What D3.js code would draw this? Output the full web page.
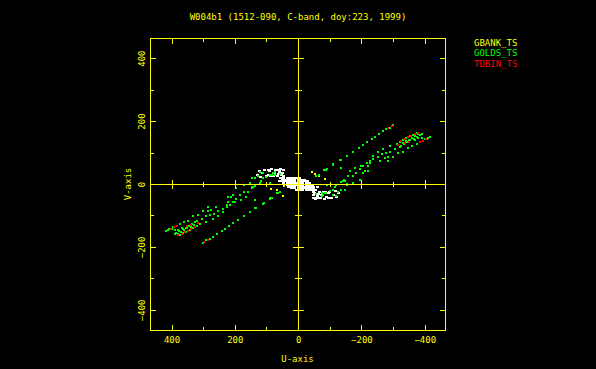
<!DOCTYPE html>
<html>
<head>
<meta charset="utf-8">
<script src="https://cdn.jsdelivr.net/npm/d3@7/dist/d3.min.js"></script>
<style>
html,body{margin:0;padding:0;background:#000;}
svg{display:block;}
text{font-family:"DejaVu Sans Mono",monospace;font-size:9px;}
</style>
</head>
<body>
<script>
const titleText = "W004b1 (1512-090, C-band, doy:223, 1999)";
const xLabel = "U-axis";
const yLabel = "V-axis";
const legendLabels = ["GBANK_TS", "GOLDS_TS", "TDBIN_TS"];
const legendColors = ["#ffff00", "#00ff00", "#ff0000"];
const majorTicks = [400, 200, 0, -200, -400];
const minorTicks = [400, 300, 200, 100, 0, -100, -200, -300, -400];

// GOLDS_TS (green) points, [u, v]
const goldsPoints = [
  [-300,186],[-290,179],[-279,174],[-268,167],[-255,159],[-242,150],[-232,143],[-219,134],[-205,125],[-191,115],[-172,102],[-153,90],[-135,77],[-110,63],[-88,45],[-65,30],
  [-374,162],[-363,156],[-353,151],[-342,146],[-332,140],[-321,133],[-311,128],[-305,111],[-290,103],[-279,98],[-266,95],[-253,87],[-237,80],[-226,72],[-216,67],[-205,58],
  [-418,149],[-407,143],[-395,138],[-384,132],[-374,128],[-361,122],[-347,116],[-332,103],[-316,98],[-300,87],[-284,72],
  [-380,158],[-370,152],[-360,147],[-350,141],[-340,136],[-330,131],[-385,155],[-375,150],[-365,144],[-355,139],[-345,133],[-335,127],[-325,122],[-390,147],[-400,142],[-410,146],[-390,160],[-378,146],[-368,140],
  [-290,121],[-321,119],[-268,111],[-253,101],[-237,90],[-284,87],[-274,82],[-258,72],[-226,67],[-221,56],[-200,58],[-195,47],[-179,51],[-165,40],[-147,11],[-135,5],[-121,-2],[-111,-18],[-90,-2],[-66,29],[-56,24],[-84,45],[-221,40],[-205,35],[-195,14],[-172,3],[-153,-2],[-137,-18],[-211,40],[-184,35],[-172,26],[-158,26],[-142,8],[-116,-8],[-126,-27],[-100,-23],[-84,-28],[-147,-18],[-109,61],[-132,77],[-81,45],
  [121,37],[89,29],[79,35],[74,29],[-58,-32],[-74,-39],[-111,-36],[-90,47],[-137,51],[-145,14],[-153,0],
  [300,-186],[290,-179],[279,-174],[268,-167],[255,-159],[242,-150],[232,-143],[219,-134],[205,-125],[191,-115],[172,-102],[153,-90],[135,-77],[110,-63],[88,-45],[65,-30],
  [374,-162],[363,-156],[353,-151],[342,-146],[332,-140],[321,-133],[311,-128],[305,-111],[290,-103],[279,-98],[266,-95],[253,-87],[237,-80],[226,-72],[216,-67],[205,-58],
  [418,-149],[407,-143],[395,-138],[384,-132],[374,-128],[361,-122],[347,-116],[332,-103],[316,-98],[300,-87],[284,-72],
  [380,-158],[370,-152],[360,-147],[350,-141],[340,-136],[330,-131],[385,-155],[375,-150],[365,-144],[355,-139],[345,-133],[335,-127],[325,-122],[390,-147],[400,-142],[410,-146],[390,-160],[378,-146],[368,-140],
  [290,-121],[321,-119],[268,-111],[253,-101],[237,-90],[284,-87],[274,-82],[258,-72],[226,-67],[221,-56],[200,-58],[195,-47],[179,-51],[165,-40],[147,-11],[135,-5],[121,2],[111,18],[90,2],[66,-29],[56,-24],[84,-45],[221,-40],[205,-35],[195,-14],[172,-3],[153,2],[137,18],[211,-40],[184,-35],[172,-26],[158,-26],[142,-8],[116,8],[126,27],[100,23],[84,28],[147,18],[109,-61],[132,-77],[81,-45],
  [-121,-37],[-89,-29],[-79,-35],[-74,-29],[58,32],[74,39],[111,36],[90,-47],[137,-51],[145,-14],[153,0]
];

// TDBIN_TS (red) points
const tdbinPoints = [
  [-297,184],[-285,177],[-326,137],[-337,143],[-348,149],[-358,154],[-368,159],[-379,163],[-384,132],[-393,137],[-403,143],[-316,124],[-337,130],[-350,135],
  [297,-184],[285,-177],[326,-137],[337,-143],[348,-149],[358,-154],[368,-159],[379,-163],[384,-132],[393,-137],[403,-143],[316,-124],[337,-130],[350,-135]
];

// GBANK_TS (white) points
const gbankPoints = [
  [121,40],[112,35],[105,43],[105,45],[95,45],[89,40],[84,48],[95,29],[87,26],[79,24],[100,24],[70,45],[68,45],[58,45],[56,48],[47,43],[60,37],[74,35],[63,33],[49,35],[66,26],[52,29],[47,24],[128,30],[118,22],
  [-121,-40],[-112,-35],[-105,-43],[-105,-45],[-95,-45],[-89,-40],[-84,-48],[-95,-29],[-87,-26],[-79,-24],[-100,-24],[-70,-45],[-68,-45],[-58,-45],[-56,-48],[-47,-43],[-60,-37],[-74,-35],[-63,-33],[-49,-35],[-66,-26],[-52,-29],[-47,-24],[-128,-30],[-118,-22],
  [55,20],[45,20],[35,20],[25,20],[15,20],[5,20],[-5,20],
  [50,14],[40,14],[30,14],[20,14],[10,14],[0,14],[-10,14],[-20,14],
  [60,8],[50,8],[40,8],[30,8],[20,8],[10,8],[0,8],[-10,8],[-20,8],[-30,8],
  [45,2],[35,2],[25,2],[15,2],[5,2],[-5,2],[-15,2],[-25,2],[-35,2],
  [35,-2],[25,-2],[15,-2],[5,-2],[-5,-2],[-15,-2],[-25,-2],[-35,-2],[-45,-2],
  [30,-8],[20,-8],[10,-8],[0,-8],[-10,-8],[-20,-8],[-30,-8],[-40,-8],[-50,-8],[-60,-8],
  [20,-14],[10,-14],[0,-14],[-10,-14],[-20,-14],[-30,-14],[-40,-14],[-50,-14],
  [5,-20],[-5,-20],[-15,-20],[-25,-20],[-35,-20],[-45,-20],[-55,-20]
];

// flagged GBANK_TS (yellow) points
const yellowPoints = [[-45,39],[-52,32],[-66,24],[-84,16],[87,-16],[68,-20],[49,-39],[45,-5]];

const W = 596, H = 369;
const svg = d3.select("body").append("svg").attr("width", W).attr("height", H)
  .style("background", "#000");

const x = d3.scaleLinear().domain([468, -464]).range([150, 445]);
const y = d3.scaleLinear().domain([464, -464]).range([38, 330]);
const YEL = "#ffff00";

const g = svg.append("g");

function drawPts(data, color, w, h) {
  g.append("g").selectAll("rect").data(data).join("rect")
    .attr("x", d => Math.round(x(d[0]) - w / 2))
    .attr("y", d => Math.round(y(d[1]) - h / 2))
    .attr("width", w).attr("height", h)
    .attr("fill", color).attr("shape-rendering", "crispEdges");
}
drawPts(gbankPoints, "#ffffff", 3, 2);
drawPts(yellowPoints, YEL, 2, 2);
drawPts(goldsPoints, "#00ff00", 2, 2);
drawPts(tdbinPoints, "#ff0000", 2, 2);

// axes drawn as 1px filled rectangles
const axes = svg.append("g").attr("fill", YEL).attr("shape-rendering", "crispEdges");
const X0 = x.range()[0], X1 = x.range()[1], Y0 = y.range()[0], Y1 = y.range()[1];
const hline = (xa, xb, yy) => axes.append("rect").attr("x", Math.min(xa, xb)).attr("y", yy).attr("width", Math.abs(xb - xa) + 1).attr("height", 1);
const vline = (xx, ya, yb) => axes.append("rect").attr("x", xx).attr("y", Math.min(ya, yb)).attr("width", 1).attr("height", Math.abs(yb - ya) + 1);

hline(X0, X1, Y0); hline(X0, X1, Y1); vline(X0, Y0, Y1); vline(X1, Y0, Y1);
const px = v => Math.round(x(v));
const py = v => Math.round(y(v));
const xz = px(0), yz = py(0);
hline(X0, X1, yz); vline(xz, Y0, Y1);

const isMajor = v => majorTicks.includes(v);
minorTicks.forEach(v => {
  const L = isMajor(v) ? 5 : 3;
  const Lz = isMajor(v) ? 4 : 2;
  vline(px(v), Y1, Y1 - L);
  vline(px(v), Y0, Y0 + L);
  hline(X0, X0 + L, py(v));
  hline(X1, X1 - L, py(v));
  if (v !== 0) {
    vline(px(v), yz - Lz, yz + Lz);
    hline(xz - Lz - 1, xz + Lz + 1, py(v));
  }
});

const fmt = v => v < 0 ? "\u2212" + Math.abs(v) : String(v);
const txt = svg.append("g").attr("fill", YEL);

txt.selectAll("text.xt").data(majorTicks).join("text")
  .attr("x", d => x(d) + 0.5).attr("y", 342.5).attr("text-anchor", "middle").text(fmt);
txt.selectAll("text.yt").data(majorTicks).join("text")
  .attr("transform", d => `translate(144.5,${y(d) + 0.5}) rotate(-90)`)
  .attr("text-anchor", "middle").text(fmt);

txt.append("text").attr("x", 297.5).attr("y", 362).attr("text-anchor", "middle").text(xLabel);
txt.append("text").attr("transform", "translate(131,184) rotate(-90)").attr("text-anchor", "middle").text(yLabel);

txt.append("text").attr("x", 298).attr("y", 19.5).attr("text-anchor", "middle").text(titleText);

svg.append("g").selectAll("text").data(legendLabels).join("text")
  .attr("x", 474).attr("y", (d, i) => 45.5 + i * 10.5)
  .attr("fill", (d, i) => legendColors[i]).text(d => d);
</script>
</body>
</html>
